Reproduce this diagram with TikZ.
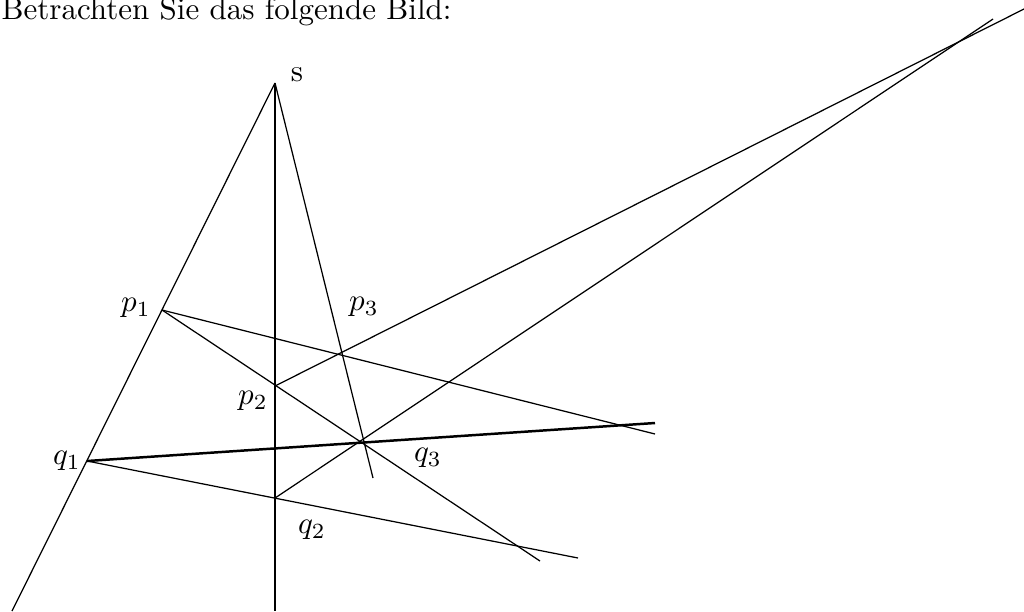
\documentclass[tikz,border=0pt]{standalone}
\usepackage{tikz}
\tikzset{
	thinline/.style={line width=0.4pt},
	axisline/.style={line width=0.8pt},
	lbl/.style={inner sep=0pt, font=\normalsize}
}
\begin{document}
\begin{tikzpicture}[x=0.3225pt, y=-0.3225pt]
	\useasboundingbox (0,0) rectangle (1024,611);
	\node[lbl, anchor=base west] (title) at (1,19) {Betrachten Sie das folgende Bild:};
	% points
	\coordinate (s) at (275,83);
	\coordinate (p1) at (162,310);
	\coordinate (p2) at (275,386);
	\coordinate (p3) at (342,353);
	\coordinate (q1) at (87,461);
	\coordinate (q2) at (275,498);
	\coordinate (q3) at (362,441);
	% free ends
	\coordinate (sbot) at (275,611);
	\coordinate (lbot) at (12,611);
	\coordinate (send) at (373,478);
	\coordinate (p1a) at (655,434);
	\coordinate (p1b) at (540,561);
	\coordinate (q1a) at (655,423);
	\coordinate (q1b) at (578,558);
	\coordinate (p2a) at (1024,9);
	\coordinate (q2a) at (993,19);
	% labels
	\node[lbl] (ls) at (297,75) {s};
	\node[lbl] (lp1) at (136,308) {$p_1$};
	\node[lbl] (lp2) at (253,401) {$p_2$};
	\node[lbl] (lp3) at (364,307) {$p_3$};
	\node[lbl] (lq1) at (67,461) {$q_1$};
	\node[lbl] (lq2) at (312,530) {$q_2$};
	\node[lbl] (lq3) at (428,458) {$q_3$};
	% lines
	\draw[axisline] (s) -- (sbot);
	\draw[thinline] (s) -- (lbot);
	\draw[thinline] (s) -- (send);
	\draw[thinline] (p1) -- (p1a);
	\draw[thinline] (p1) -- (p1b);
	\draw[axisline] (q1) -- (q1a);
	\draw[thinline] (q1) -- (q1b);
	\draw[thinline] (p2) -- (p2a);
	\draw[thinline] (q2) -- (q2a);
\end{tikzpicture}
\end{document}
